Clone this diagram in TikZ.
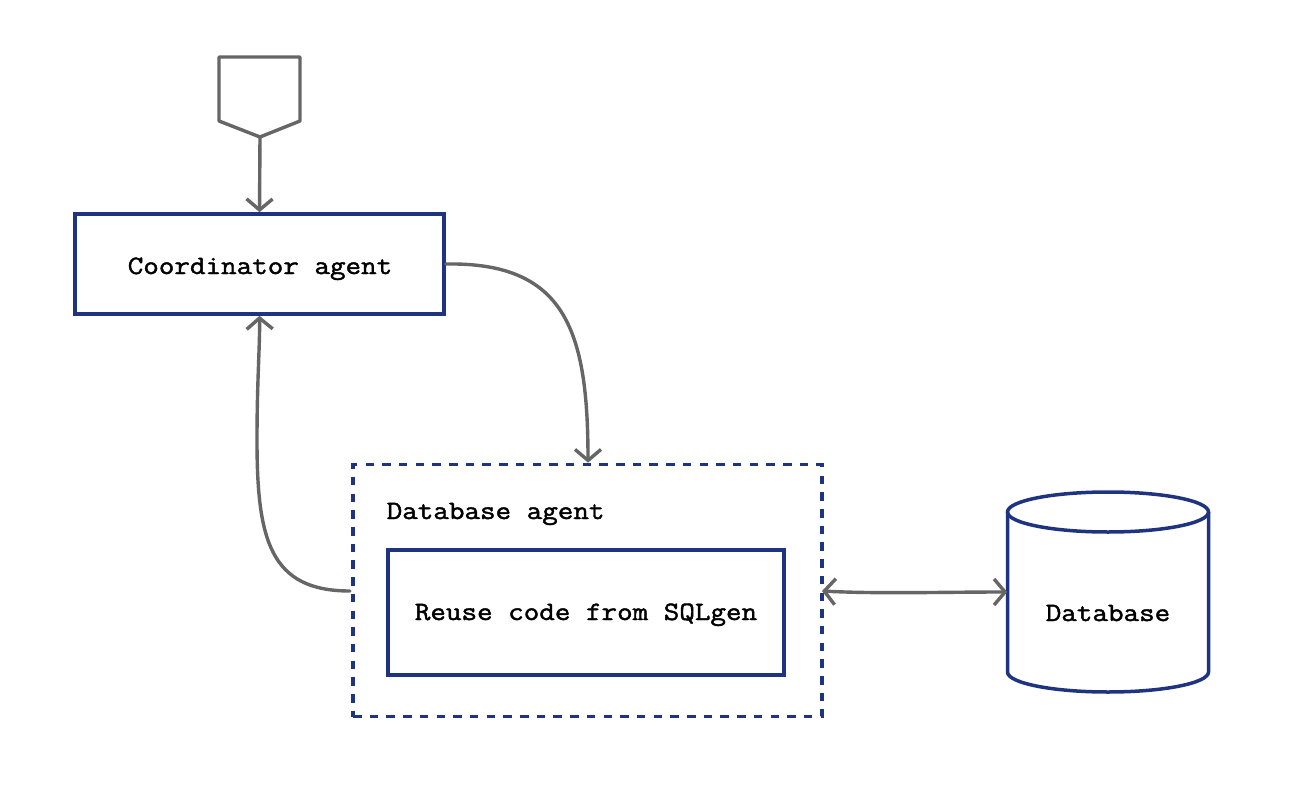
\documentclass[tikz,border=0pt]{standalone}
\usepackage{fontspec}
\newfontfamily\diagmono[FakeStretch=1.14,FakeBold=1.6]{Latin Modern Mono}
\usetikzlibrary{arrows.meta}
\definecolor{boxblue}{RGB}{31,52,128}
\definecolor{linegray}{RGB}{102,102,102}
\begin{document}
\begin{tikzpicture}[x=1pt,y=-1pt,
  lbl/.style={font=\diagmono\fontsize{26.5}{30}\selectfont, text=black, inner sep=0pt},
  bluebox/.style={draw=boxblue, line width=3.7pt, rectangle, inner sep=0pt},
  conn/.style={draw=linegray, line width=3.4pt, line cap=round,
    -{Straight Barb[length=11pt,width=26pt,line width=3.4pt]}},
  biconn/.style={draw=linegray, line width=3.4pt, line cap=round,
    {Straight Barb[length=11pt,width=26pt,line width=3.4pt]}-{Straight Barb[length=11pt,width=26pt,line width=3.4pt]}}]
\useasboundingbox (0,0) rectangle (1293,792);
\fill[white] (0,0) rectangle (1293,792);

% input pentagon
\draw[linegray, line width=3.4pt, line join=round]
  (219,57) -- (300,57) -- (300,121) -- (260,137) -- (219,121) -- cycle;
\coordinate (inp) at (260,137);

% coordinator
\node[bluebox, minimum width=369pt, minimum height=100pt] (coord) at (259.5,264) {};
\node[lbl, anchor=base] (coordlbl) at (260,274) {Coordinator agent};

% database agent (dashed)
\node[draw=boxblue, line width=3.7pt, dash pattern=on 8.5pt off 8.2pt, rectangle, inner sep=0pt,
      minimum width=469pt, minimum height=252pt] (dbagent) at (587.5,590.5) {};
\node[lbl, anchor=base west] (dbagentlbl) at (386.5,519) {Database agent};
\node[bluebox, minimum width=396pt, minimum height=125pt] (reuse) at (586,612.5) {};
\node[lbl, anchor=base] (reuselbl) at (586,620) {Reuse code from SQLgen};

% database cylinder
\draw[boxblue, line width=3.5pt]
  (1108,512) ellipse [x radius=100.5pt, y radius=20pt];
\draw[boxblue, line width=3.5pt]
  (1007.5,512) -- (1007.5,672) arc[start angle=180, end angle=360, x radius=100.5pt, y radius=20pt] -- (1208.5,512);
\node[minimum width=201pt, minimum height=10pt, inner sep=0pt] (db) at (1108,592) {};
\node[lbl, anchor=base] (dblbl) at (1108,621) {Database};

% connectors
\draw[conn] (inp) -- (coord.north);
\draw[conn] (coord.east) .. controls (565,262) and (588,330) .. (dbagent.north -| 588,0);
\coordinate (dbleft) at (350,591);
\draw[conn] (dbleft) .. controls (270,591) and (257,540) .. (257,440) .. controls (257,380) and (260,345) .. (coord.south);
\coordinate (dbright) at (822,591);
\draw[biconn] (dbright) .. controls (880,594) and (940,592) .. (db.west);
\end{tikzpicture}
\end{document}
